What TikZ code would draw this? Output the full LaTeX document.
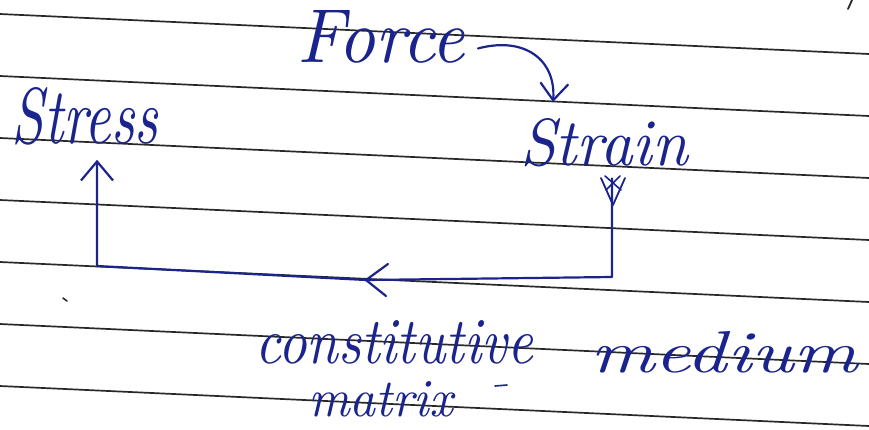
\documentclass[tikz,border=0pt]{standalone}
\usepackage{graphicx}
\usetikzlibrary{arrows.meta,calc,decorations.markings}
\definecolor{ink}{RGB}{26,36,140}
\definecolor{rule}{RGB}{40,40,40}
\newcommand\hw[3]{\resizebox{#1}{#2}{\itshape #3}}
\tikzset{
  hand/.style={inner sep=0pt, outer sep=0pt, text=ink, anchor=north west},
  ruleline/.style={draw=rule, line width=1.7pt},
  pen/.style={draw=ink, line width=2.2pt, line cap=round, line join=round},
}
\begin{document}
\begin{tikzpicture}[x=1pt,y=-1pt]
\useasboundingbox (0,0) rectangle (869,429);
\clip (0,0) rectangle (869,429);
\fill[white] (0,0) rectangle (869,429);
% ruled paper lines
\foreach \k in {0,...,6}{
  \draw[ruleline] (0,{14+62*\k}) -- (869,{54+62*\k});
}
% texts
\node[hand] (force) at (297,10) {\hw{168pt}{52pt}{Force}};
\node[hand] (stress) at (12,87) {\hw{146pt}{56pt}{Stress}};
\node[hand] (strain) at (520,118) {\hw{168pt}{47pt}{Strain}};
\node[hand] (const) at (255,320) {\hw{278pt}{43pt}{constitutive}};
\node[hand] (medium) at (590,331) {\hw{268pt}{41pt}{medium}};
\node[hand] (matrix) at (308,381) {\hw{145pt}{35pt}{matrix}};
% Force -> Strain
\coordinate (f1) at ($(force.east)+(13,12)$);
\coordinate (s1) at ($(strain.north)+(-51,-16)$);
\draw[pen, -{Straight Barb[length=17pt,width=28pt,line width=2.2pt]}]
  (f1) .. controls (525,36) and (556,60) .. (s1);
% Strain -> Stress loop
\coordinate (c1) at ($(strain.south)+(8,12)$);
\coordinate (c2) at (612,277);
\coordinate (c3) at (366,280);
\coordinate (c4) at (97,266);
\coordinate (c5) at ($(stress.south)+(12,15)$);
\draw[pen] (c1) -- (c2) -- (c3);
\draw[pen, -{Straight Barb[length=19pt,width=32pt,line width=2.2pt]}] (c3) -- (c4) -- (c5);
% mid arrowhead pointing left
\draw[pen] (388,264) -- (c3) -- (386,296);
% scribbled down arrowhead below Strain
\draw[pen, line width=1.8pt] (601,178) -- (613,205) -- (625,178);
\draw[pen, line width=1.6pt] (605,176) -- (621,190) (620,176) -- (606,190);
% small stray marks
\draw[pen, line width=1.6pt] (495,386) -- (507,385);
\draw[draw=rule, line width=1.6pt, line cap=round] (63,298) -- (67,301);
\draw[draw=rule, line width=1.8pt, line cap=round] (852,0) -- (848,9);
\end{tikzpicture}
\end{document}
